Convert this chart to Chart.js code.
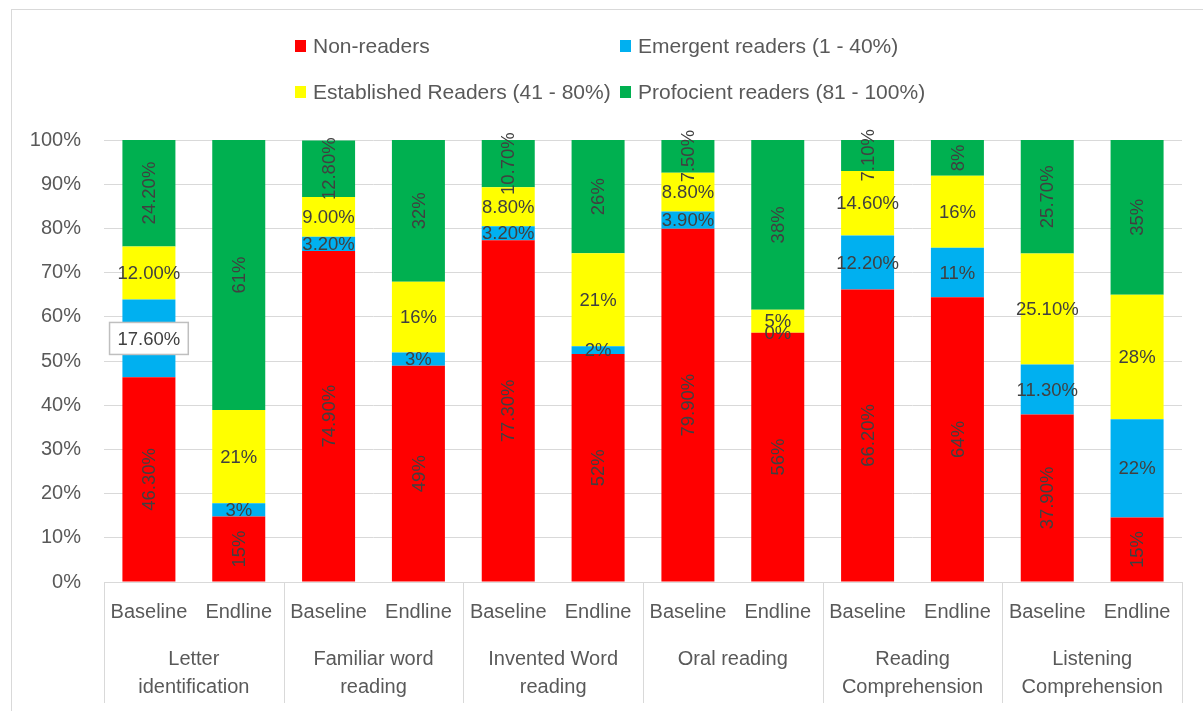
<!DOCTYPE html>
<html><head><meta charset="utf-8">
<script src="https://cdn.jsdelivr.net/npm/chart.js@4.4.1/dist/chart.umd.min.js"></script>
<style>html,body{margin:0;padding:0;background:#fff;}canvas{display:block;}</style>
</head><body>
<canvas id="c" width="1203" height="711"></canvas>
<script>
// ---- data ----
const groups = [["Letter","identification"],["Familiar word","reading"],["Invented Word","reading"],["Oral reading"],["Reading","Comprehension"],["Listening","Comprehension"]];
const phases = ["Baseline","Endline"];
const categories = ["Baseline","Endline","Baseline","Endline","Baseline","Endline","Baseline","Endline","Baseline","Endline","Baseline","Endline"];
const seriesNames = ["Non-readers","Emergent readers (1 - 40%)","Established Readers (41 - 80%)","Profocient readers (81 - 100%)"];
const nonReaders  = [46.3, 14.8, 74.9, 48.9, 77.3, 51.6, 79.9, 56.4, 66.2, 64.4, 37.9, 14.6];
const emergent    = [17.6, 3.0,  3.2,  3.0,  3.2,  1.75, 3.9,  0,    12.2, 11.2, 11.3, 22.2];
const established = [12.0, 21.1, 9.0,  16.05, 8.8, 21.0, 8.8,  5.2,  14.6, 16.3, 25.1, 28.2];
const proficient  = [24.2, 61.1, 12.8, 32.05, 10.7, 25.65, 7.5, 38.4, 7.1,  8.1,  25.7, 35.0];
const yTickValues = [0,10,20,30,40,50,60,70,80,90,100];

// ---- styles ----
const colors = ["#FF0000","#00B0F0","#FFFF00","#00B050"];
const rotatedSeries = [true,false,false,true];
const boxedLabel = {dataset:1, index:0};
const FONT = "'Liberation Sans', Arial, sans-serif";
const TXT = "#595959";

Chart.defaults.font.family = FONT;
Chart.defaults.color = TXT;

const frame = {
  id:'frame',
  beforeDraw(chart){
    const ctx = chart.ctx;
    ctx.save();
    ctx.strokeStyle = '#d9d9d9';
    ctx.lineWidth = 1;
    ctx.strokeRect(11.5, 9.5, 1400, 900);
    ctx.restore();
  }
};

const legendPlugin = {
  id:'legend2',
  afterDraw(chart){
    const ctx = chart.ctx;
    const cols = [295, 620], rows = [46, 92];
    ctx.save();
    ctx.font = "21px " + FONT;
    ctx.textBaseline = 'middle';
    ctx.textAlign = 'left';
    chart.data.datasets.forEach((ds,i)=>{
      const x = cols[i%2], y = rows[Math.floor(i/2)];
      ctx.fillStyle = ds.backgroundColor;
      ctx.fillRect(x, y-6, 11, 12);
      ctx.fillStyle = TXT;
      ctx.fillText(ds.label, x+18, y+1);
    });
    ctx.restore();
  }
};

const separators = {
  id:'separators',
  afterDraw(chart){
    const s = chart.scales.x2, ctx = chart.ctx;
    const n = groups.length;
    ctx.save();
    ctx.strokeStyle = '#d9d9d9';
    ctx.lineWidth = 1;
    for(let k=0;k<=n;k++){
      const x = Math.round(s.left + k*(s.right - s.left)/n) + 0.5;
      ctx.beginPath();
      ctx.moveTo(x, chart.chartArea.bottom);
      ctx.lineTo(x, 703);
      ctx.stroke();
    }
    ctx.restore();
  }
};

const dataLabels = {
  id:'dataLabels',
  afterDatasetsDraw(chart){
    const ctx = chart.ctx;
    ctx.save();
    ctx.font = "18.5px " + FONT;
    ctx.textAlign = 'center';
    ctx.textBaseline = 'middle';
    chart.data.datasets.forEach((ds,i)=>{
      const meta = chart.getDatasetMeta(i);
      meta.data.forEach((bar,j)=>{
        const v = ds.data[j];
        const p = bar.getProps(['x','y','base'], true);
        const text = (j%2===0 ? v.toFixed(2) : String(Math.round(v))) + '%';
        const cy = (p.y + p.base)/2;
        ctx.save();
        ctx.translate(p.x, cy);
        if (rotatedSeries[i]) ctx.rotate(-Math.PI/2);
        if (boxedLabel.dataset===i && boxedLabel.index===j){
          const w = ctx.measureText(text).width + 16;
          ctx.fillStyle = '#ffffff';
          ctx.fillRect(-w/2, -16, w, 32);
          ctx.strokeStyle = '#bfbfbf';
          ctx.lineWidth = 1.5;
          ctx.strokeRect(-w/2, -16, w, 32);
        }
        ctx.fillStyle = '#404040';
        ctx.fillText(text, 0, 1);
        ctx.restore();
      });
    });
    ctx.restore();
  }
};

const seriesData = [nonReaders, emergent, established, proficient];

new Chart(document.getElementById('c'), {
  type:'bar',
  data:{
    labels: categories,
    datasets: seriesNames.map((name,i)=>({
      label:name, data:seriesData[i], backgroundColor:colors[i],
      borderWidth:0, xAxisID:'x', yAxisID:'y',
      barPercentage:0.59, categoryPercentage:1.0
    }))
  },
  options:{
    responsive:false, animation:false, devicePixelRatio:1,
    layout:{padding:{top:140, right:21, bottom:0, left:0}},
    plugins:{legend:{display:false}, tooltip:{enabled:false}, title:{display:false}},
    scales:{
      y:{
        stacked:true, min:0, max:100,
        afterBuildTicks(scale){ scale.ticks = yTickValues.map(v=>({value:v})); },
        afterFit(scale){ scale.width = 104; },
        ticks:{callback:v=>v+'%', font:{size:20}, color:TXT, padding:23},
        grid:{color:'#d9d9d9', drawTicks:false, lineWidth:1},
        border:{display:false}
      },
      x:{
        stacked:true, position:'bottom', weight:1,
        afterFit(scale){ scale.height = 53; },
        ticks:{font:{size:20}, color:TXT, padding:18, maxRotation:0, autoSkip:false},
        grid:{display:false, drawTicks:false},
        border:{display:true, color:'#d9d9d9'}
      },
      x2:{
        type:'category', labels:groups, position:'bottom', weight:2, offset:true,
        afterFit(scale){ scale.height = 76; },
        ticks:{font:{size:20, lineHeight:1.4}, color:TXT, padding:10, maxRotation:0, autoSkip:false},
        grid:{display:false, drawTicks:false},
        border:{display:false}
      }
    }
  },
  plugins:[frame, dataLabels, separators, legendPlugin]
});
</script>
</body></html>
